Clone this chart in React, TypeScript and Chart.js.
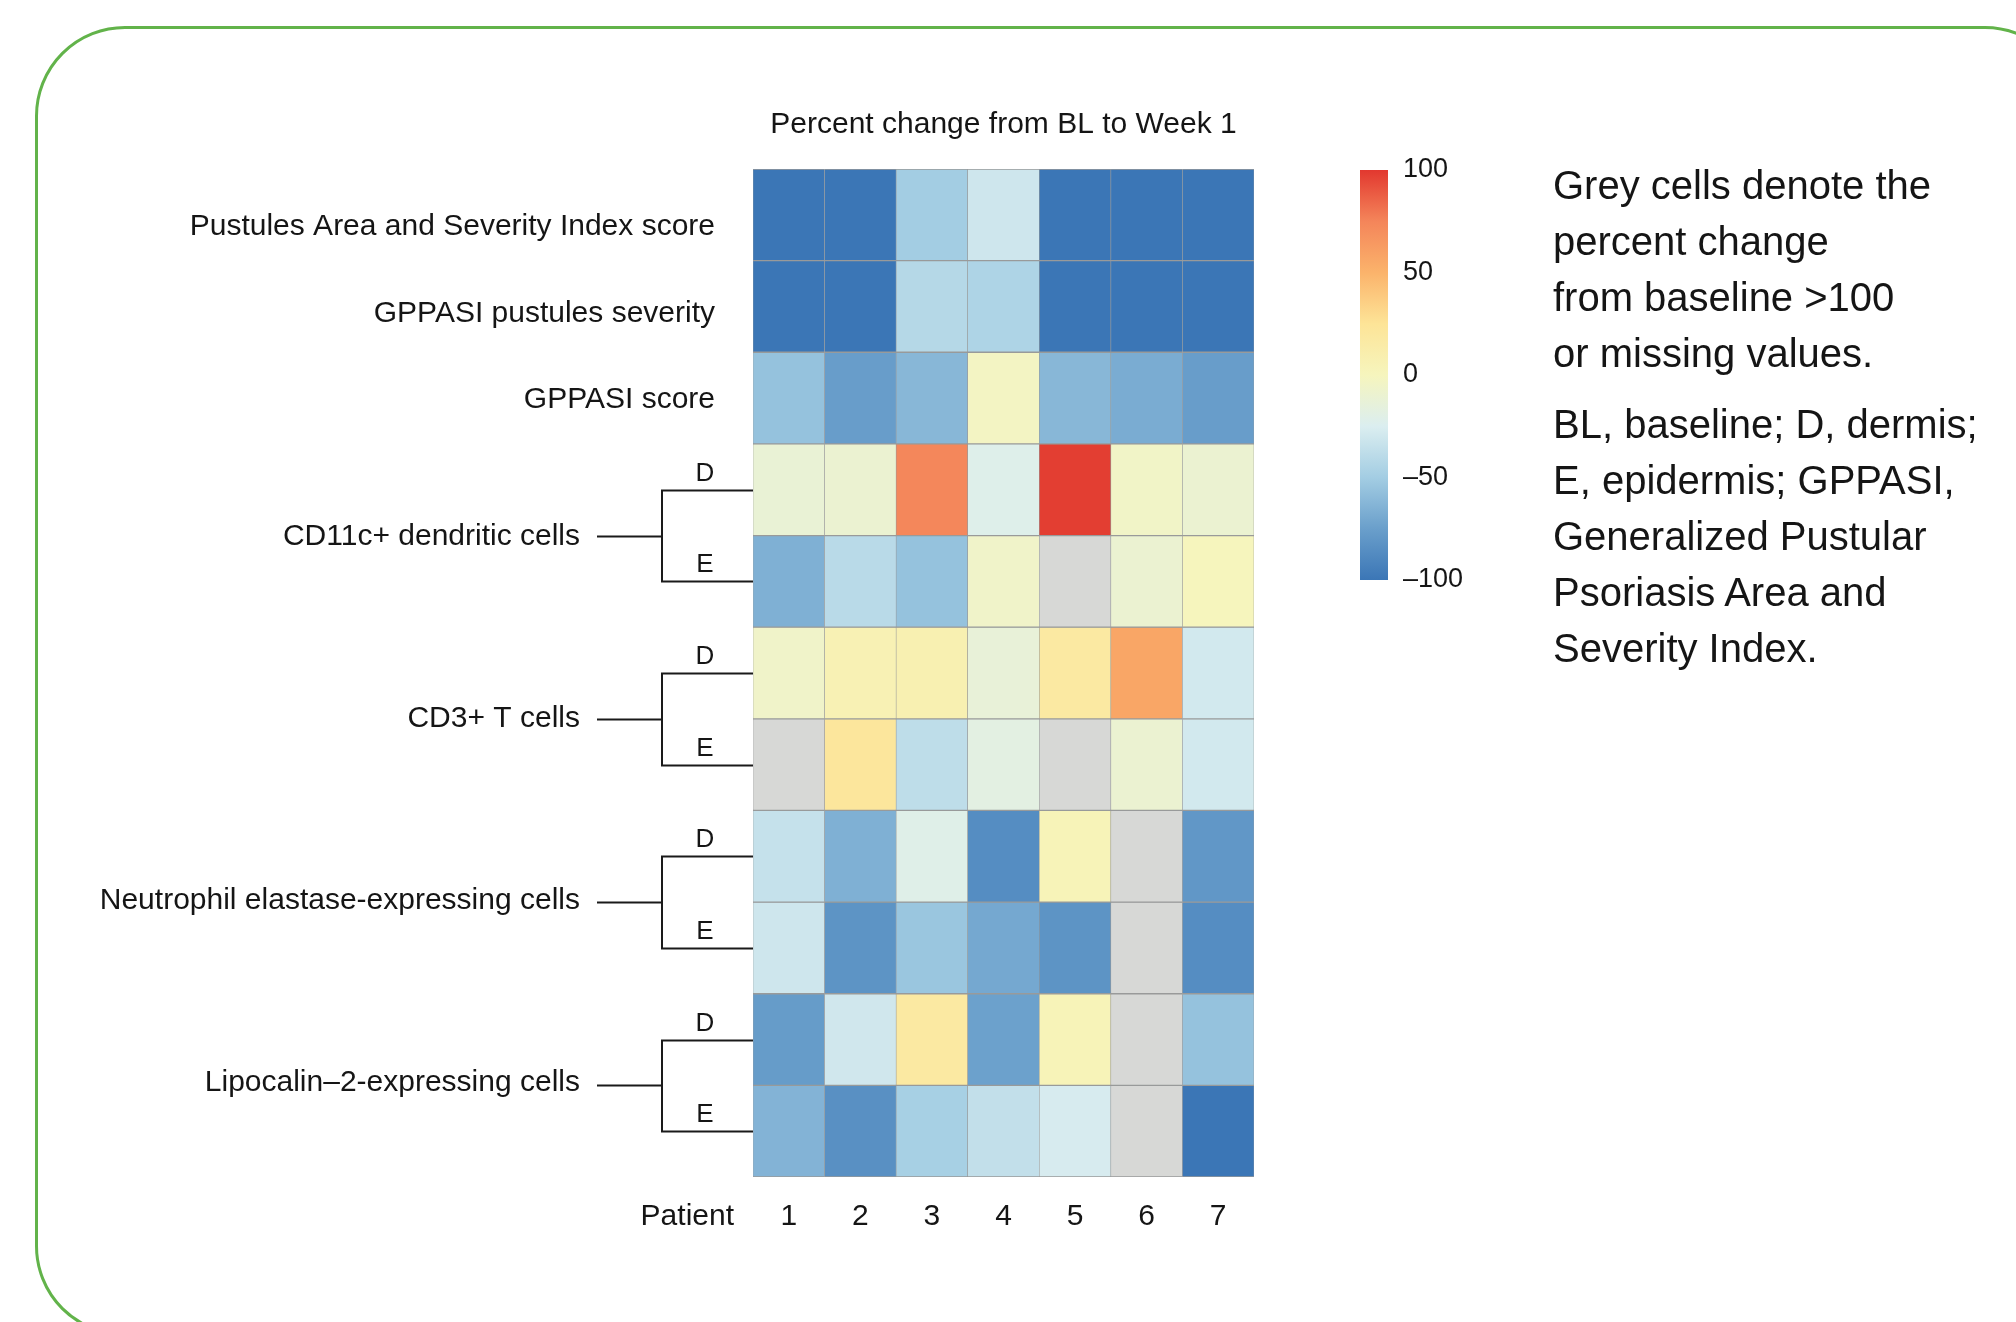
import React, { useEffect, useRef } from "react";
import { Chart, registerables } from "chart.js";

Chart.register(...registerables);

// ---------- data ----------
const patients = ["1", "2", "3", "4", "5", "6", "7"];

const singleRowLabels = [
  "Pustules Area and Severity Index score",
  "GPPASI pustules severity",
  "GPPASI score",
];

const groupLabels = [
  "CD11c+ dendritic cells",
  "CD3+ T cells",
  "Neutrophil elastase-expressing cells",
  "Lipocalin–2-expressing cells",
];

const layerLabels = ["D", "E"];

// percent change from BL to Week 1 (null = grey: >100 or missing)
const pustulesAreaSeverity = [-100, -100, -50, -31, -100, -100, -100];
const gppasiPustulesSeverity = [-100, -100, -42, -45, -100, -100, -100];
const gppasiScore = [-56, -76, -62, -3, -62, -68, -76];
const cd11cDermis = [-12, -10, 74, -22, 98, -5, -10];
const cd11cEpidermis = [-66, -40, -56, -6, null, -10, 0];
const cd3Dermis = [-6, 6, 8, -13, 18, 57, -29];
const cd3Epidermis = [null, 22, -38, -18, null, -10, -29];
const neDermis = [-35, -66, -21, -86, 3, null, -80];
const neEpidermis = [-31, -82, -54, -70, -82, null, -86];
const lcn2Dermis = [-77, -30, 18, -74, 3, null, -56];
const lcn2Epidermis = [-64, -84, -48, -36, -27, null, -100];

const allRows = [
  pustulesAreaSeverity,
  gppasiPustulesSeverity,
  gppasiScore,
  cd11cDermis,
  cd11cEpidermis,
  cd3Dermis,
  cd3Epidermis,
  neDermis,
  neEpidermis,
  lcn2Dermis,
  lcn2Epidermis,
];

const colorbarTicks = [100, 50, 0, -50, -100];
const chartTitle = "Percent change from BL to Week 1";
const xAxisTitle = "Patient";

const noteParagraph1 = [
  "Grey cells denote the",
  "percent change",
  "from baseline >100",
  "or missing values.",
];
const noteParagraph2 = [
  "BL, baseline; D, dermis;",
  "E, epidermis; GPPASI,",
  "Generalized Pustular",
  "Psoriasis Area and",
  "Severity Index.",
];

// ---------- styles ----------
const FONT = '"Liberation Sans", Arial, sans-serif';
const TEXT = "#151515";
const GREY = "#d7d8d6";
const paletteStops: [number, string][] = [
  [-100, "#3b76b6"],
  [-75, "#6a9fcb"],
  [-50, "#a3cde3"],
  [-25, "#dbeef0"],
  [0, "#f6f5bd"],
  [25, "#fde497"],
  [50, "#fbb36b"],
  [75, "#f4855a"],
  [100, "#e2382f"],
];
const singleLabelOffsets = [12, 7, 2];

function hexToRgb(h: string) {
  const n = parseInt(h.slice(1), 16);
  return [(n >> 16) & 255, (n >> 8) & 255, n & 255];
}

function colorFor(v: number) {
  const c = Math.max(-100, Math.min(100, v));
  for (let i = 0; i < paletteStops.length - 1; i++) {
    const [a, ca] = paletteStops[i];
    const [b, cb] = paletteStops[i + 1];
    if (c >= a && c <= b) {
      const t = (c - a) / (b - a);
      const A = hexToRgb(ca);
      const B = hexToRgb(cb);
      const m = A.map((x, k) => Math.round(x + (B[k] - x) * t));
      return `rgb(${m[0]},${m[1]},${m[2]})`;
    }
  }
  return paletteStops[paletteStops.length - 1][1];
}

const W = 2016;
const H = 1322;
const GRID = { left: 753, right: 1254, top: 169, bottom: 1177 };
const CBAR = { left: 1360, right: 1388, top: 170, bottom: 580 };

const annotations = {
  id: "annotations",
  afterDraw(chart: any) {
    const { ctx, chartArea, scales } = chart;
    const xs = scales.x;
    const ys = scales.y;
    const rc = (r: number) => ys.getPixelForValue(r + 0.5);
    ctx.save();
    ctx.fillStyle = TEXT;
    ctx.strokeStyle = "#1a1a1a";

    // title
    ctx.font = `30px ${FONT}`;
    ctx.textAlign = "center";
    ctx.textBaseline = "middle";
    ctx.fillText(chartTitle, (chartArea.left + chartArea.right) / 2, 125);

    // single row labels
    ctx.textAlign = "right";
    singleRowLabels.forEach((lab, r) => {
      ctx.fillText(lab, 715, rc(r) + singleLabelOffsets[r]);
    });

    // grouped rows with brackets
    const xV = 662;
    groupLabels.forEach((lab, g) => {
      const rD = singleRowLabels.length + g * 2;
      const rE = rD + 1;
      const yD = Math.round(rc(rD)) + 0.5;
      const yE = Math.round(rc(rE)) + 0.5;
      const yMid = Math.round(ys.getPixelForValue(rD + 1)) + 0.5;
      ctx.lineWidth = 2;
      ctx.beginPath();
      ctx.moveTo(chartArea.left, yD);
      ctx.lineTo(xV, yD);
      ctx.lineTo(xV, yE);
      ctx.lineTo(chartArea.left, yE);
      ctx.moveTo(xV, yMid);
      ctx.lineTo(597, yMid);
      ctx.stroke();
      ctx.font = `26px ${FONT}`;
      ctx.textAlign = "center";
      ctx.textBaseline = "alphabetic";
      ctx.fillText(layerLabels[0], 705, yD - 10);
      ctx.fillText(layerLabels[1], 705, yE - 10);
      ctx.font = `30px ${FONT}`;
      ctx.textAlign = "right";
      ctx.textBaseline = "middle";
      ctx.fillText(lab, 580, yMid - g);
    });

    // x axis labels
    ctx.font = `30px ${FONT}`;
    ctx.textBaseline = "middle";
    ctx.textAlign = "right";
    ctx.fillText(xAxisTitle, 734, 1217);
    ctx.textAlign = "center";
    patients.forEach((p, i) => {
      ctx.fillText(p, xs.getPixelForValue(i), 1217);
    });

    // colorbar
    const grad = ctx.createLinearGradient(0, CBAR.bottom, 0, CBAR.top);
    paletteStops.forEach(([v, c]) => grad.addColorStop((v + 100) / 200, c));
    ctx.fillStyle = grad;
    ctx.fillRect(CBAR.left, CBAR.top, CBAR.right - CBAR.left, CBAR.bottom - CBAR.top);
    ctx.fillStyle = TEXT;
    ctx.font = `27px ${FONT}`;
    ctx.textAlign = "left";
    ctx.textBaseline = "middle";
    colorbarTicks.forEach((t) => {
      const yy = CBAR.bottom - ((t + 100) / 200) * (CBAR.bottom - CBAR.top);
      const s = t < 0 ? "–" + Math.abs(t) : String(t);
      ctx.fillText(s, 1403, yy);
    });
    ctx.restore();
  },
};

export default function App() {
  const ref = useRef<HTMLCanvasElement | null>(null);

  useEffect(() => {
    if (!ref.current) return;
    const datasets = allRows.map((vals, r) => ({
      label: `row${r}`,
      data: patients.map(() => 1),
      backgroundColor: vals.map((v) => (v === null ? GREY : colorFor(v))),
      borderColor: "#999a9a",
      borderWidth: { top: 1, bottom: 1, left: 0.6, right: 0.6 },
      borderSkipped: false,
      barPercentage: 1,
      categoryPercentage: 1,
    }));
    const chart = new Chart(ref.current, {
      type: "bar",
      data: { labels: patients, datasets: datasets as any },
      options: {
        responsive: false,
        animation: false,
        devicePixelRatio: 1,
        events: [],
        layout: {
          padding: {
            left: GRID.left,
            right: W - GRID.right,
            top: GRID.top,
            bottom: H - GRID.bottom,
          },
        },
        plugins: { legend: { display: false }, tooltip: { enabled: false } },
        scales: {
          x: { type: "category", display: false, stacked: true, offset: true },
          y: { type: "linear", display: false, stacked: true, min: 0, max: allRows.length, reverse: true },
        },
      },
      plugins: [annotations],
    });
    return () => chart.destroy();
  }, []);

  const noteStyle: React.CSSProperties = {
    fontFamily: FONT,
    fontSize: 40,
    lineHeight: "56px",
    color: TEXT,
    margin: 0,
    whiteSpace: "nowrap",
  };

  return (
    <div
      style={{
        position: "fixed",
        left: 0,
        top: 0,
        width: W,
        height: H,
        overflow: "hidden",
        background: "#fff",
      }}
    >
      <div
        style={{
          position: "absolute",
          left: 35,
          top: 26,
          width: 2040,
          height: 1310,
          border: "3px solid #62b34a",
          borderRadius: 90,
          boxSizing: "border-box",
        }}
      />
      <canvas ref={ref} width={W} height={H} style={{ position: "absolute", left: 0, top: 0, display: "block" }} />
      <div style={{ position: "absolute", left: 1553, top: 157 }}>
        <p style={noteStyle}>
          {noteParagraph1.map((l, i) => (
            <React.Fragment key={i}>
              {l}
              {i < noteParagraph1.length - 1 ? <br /> : null}
            </React.Fragment>
          ))}
        </p>
        <p style={{ ...noteStyle, marginTop: 15 }}>
          {noteParagraph2.map((l, i) => (
            <React.Fragment key={i}>
              {l}
              {i < noteParagraph2.length - 1 ? <br /> : null}
            </React.Fragment>
          ))}
        </p>
      </div>
    </div>
  );
}
